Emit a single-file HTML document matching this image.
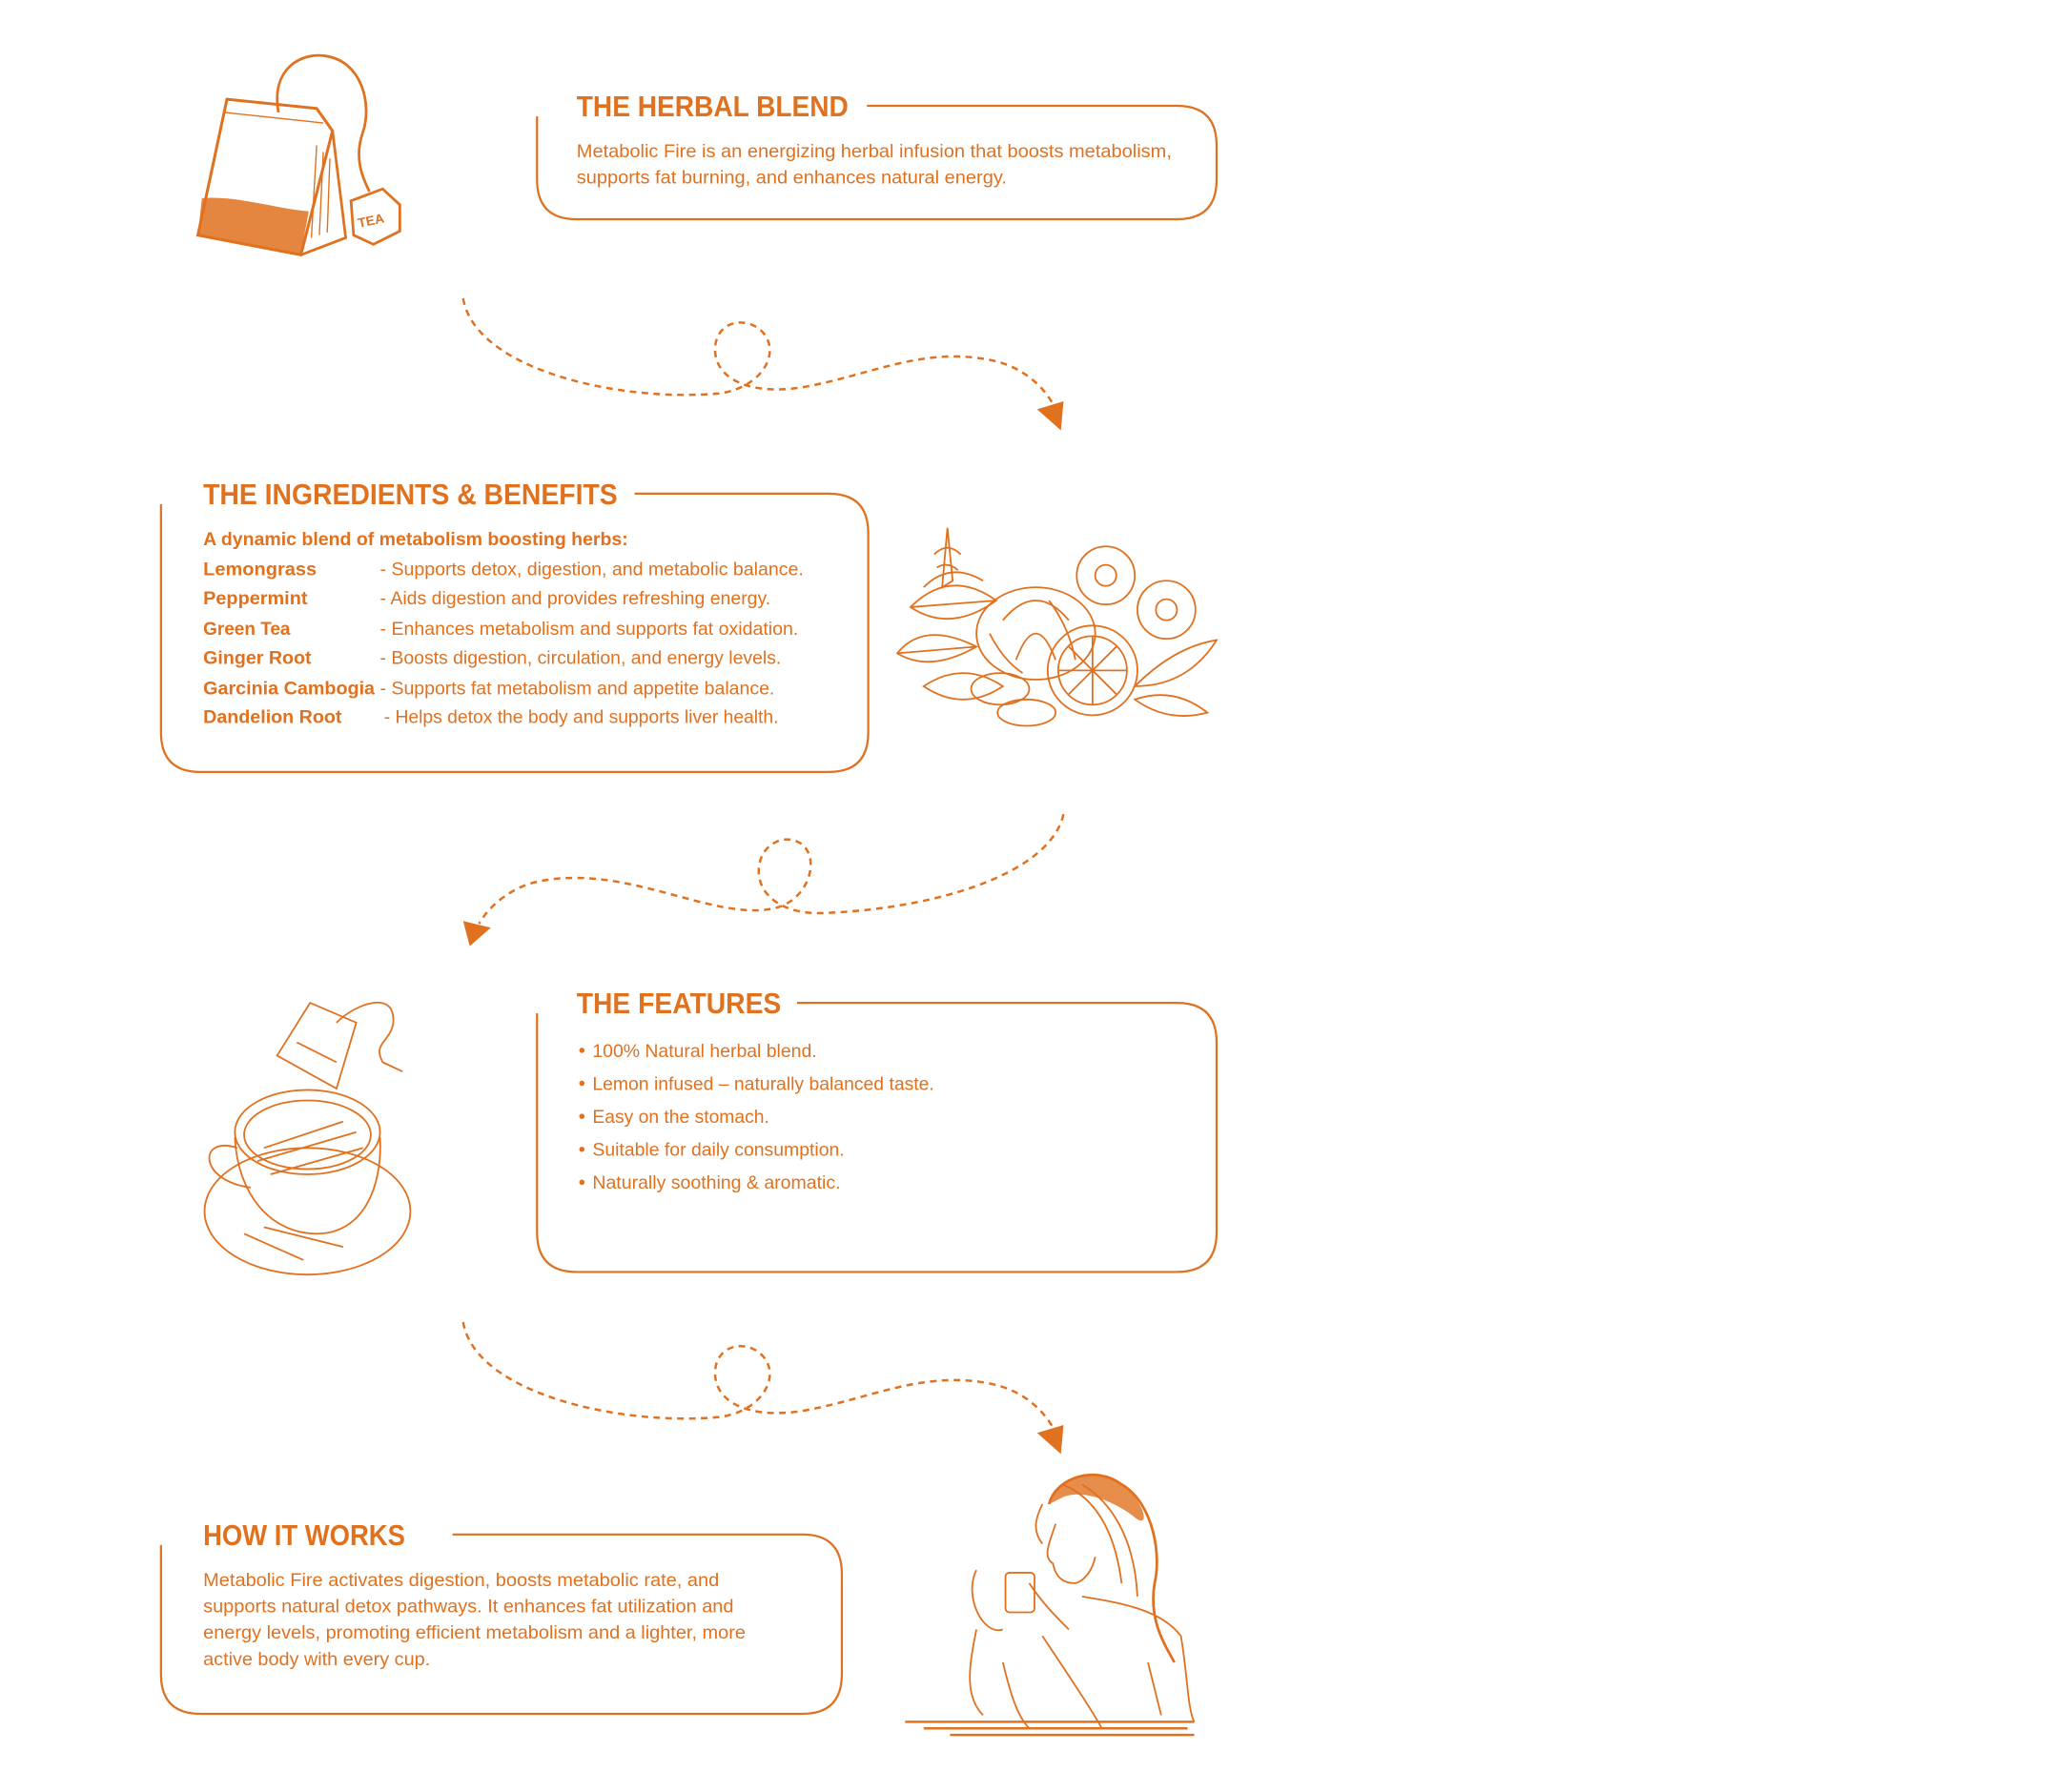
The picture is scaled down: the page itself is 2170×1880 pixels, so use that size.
<!DOCTYPE html>
<html><head><meta charset="utf-8"><style>
html,body{margin:0;padding:0;background:#fff;}
svg{display:block;}
text{font-family:"Liberation Sans",sans-serif;fill:#e0711f;}
.h{font-weight:bold;font-size:22px;}
.b{font-size:14px;}
.bb{font-size:14px;font-weight:bold;}
</style></head><body>
<svg width="2170" height="1880" viewBox="0 0 1568 1358" xmlns="http://www.w3.org/2000/svg">
<g fill="none" stroke="#e0711f" stroke-width="1.6">
<!-- boxes -->
<path d="M407,88 V136 Q407,166 437,166 H892 Q922,166 922,136 V110 Q922,80 892,80 H657"/>
<path d="M122,382 V555 Q122,585 152,585 H628 Q658,585 658,555 V404 Q658,374 628,374 H481"/>
<path d="M407,768 V934 Q407,964 437,964 H892 Q922,964 922,934 V790 Q922,760 892,760 H604"/>
<path d="M122,1171 V1269 Q122,1299 152,1299 H608 Q638,1299 638,1269 V1193 Q638,1163 608,1163 H343"/>
<!-- connectors -->
<g stroke-dasharray="5,4" stroke-width="1.8">
<path d="M351,226 C360,280 470,305 545,298 C575,294 588,272 582,258 C575,240 545,238 542,262 C540,288 570,300 610,293 C660,284 700,262 752,273 C775,278 790,292 798,306"/>
<path d="M806,617 C795,665 700,690 620,692 C595,692 575,680 575,660 C575,640 595,630 608,640 C622,652 612,682 588,688 C540,700 470,650 400,670 C382,677 370,688 363,700"/>
<path d="M351,1002 C360,1056 470,1081 545,1074 C575,1070 588,1048 582,1034 C575,1016 545,1014 542,1038 C540,1064 570,1076 610,1069 C660,1060 700,1038 752,1049 C775,1054 790,1068 798,1082"/>
</g>
<!-- tea bag -->
<path d="M172,75 L240,82 L252,99 L228,193 L150,178 Z" stroke-width="2.2"/>
<path d="M252,99 L262,180 L228,193" stroke-width="2"/>
<path d="M170,85 L245,93" stroke-width="1"/>
<path d="M211,85 C205,50 230,40 245,42 C275,45 282,80 275,100 C268,120 275,135 280,145" stroke-width="2"/>
<path d="M266,152 L290,143 L303,155 L303,175 L283,185 L268,178 Z" stroke-width="2"/>
<path d="M240,110 L236,180 M245,115 L242,178 M250,120 L248,176" stroke-width="1"/>
</g>
<path d="M153,150 C180,148 210,158 234,160 L228,192 L150,178 Z" fill="#e0711f" opacity="0.85"/>
<text x="271" y="170" style="font-size:10px;font-weight:bold" transform="rotate(-12 283 166)">TEA</text>
<g fill="none" stroke="#e0711f" stroke-width="1.3">
<!-- herbs -->
<circle cx="828" cy="508" r="34"/><circle cx="828" cy="508" r="26"/>
<path d="M828,482 V534 M802,508 H854 M810,490 L846,526 M846,490 L810,526"/>
<ellipse cx="785" cy="480" rx="45" ry="35"/>
<path d="M760,470 Q785,440 810,470 M770,500 Q785,460 800,500 M750,480 Q760,500 775,510 M795,455 Q810,475 815,500"/>
<circle cx="838" cy="436" r="22"/><circle cx="838" cy="436" r="8"/>
<circle cx="884" cy="462" r="22"/><circle cx="884" cy="462" r="8"/>
<path d="M718,400 L722,440 L714,445 L718,400 M708,420 Q718,410 728,420 M710,430 Q718,425 726,432"/>
<path d="M690,460 Q720,430 755,455 Q720,480 690,460Z M680,495 Q700,470 740,490 Q705,510 680,495Z M700,520 Q730,500 760,520 Q730,540 700,520Z M700,445 Q720,425 745,440 M690,460 L755,455 M680,495 L740,490"/>
<path d="M860,520 Q890,490 922,485 Q900,520 860,520Z M860,530 Q890,520 915,540 Q885,548 860,530Z"/>
<ellipse cx="758" cy="522" rx="22" ry="12"/><ellipse cx="778" cy="540" rx="22" ry="10"/>
<!-- cup -->
<path d="M210,800 L235,760 L270,775 L255,825 Z M225,790 L255,805 M255,775 C270,760 300,750 298,775 C296,790 282,790 290,805 L305,812"/>
<ellipse cx="233" cy="858" rx="55" ry="32"/>
<ellipse cx="233" cy="860" rx="48" ry="26"/>
<path d="M178,862 C180,905 205,935 240,935 C275,935 290,900 288,862"/>
<path d="M180,870 C150,860 150,895 190,900"/>
<ellipse cx="233" cy="918" rx="78" ry="48"/>
<path d="M200,870 L260,850 M195,880 L270,858 M205,890 L275,870 M200,930 L260,945 M185,935 L230,955"/>
<!-- woman -->
<path d="M795,1140 C800,1120 830,1110 850,1125 C875,1140 880,1180 875,1200 C870,1230 885,1250 890,1260" stroke-width="2"/>
<path d="M800,1155 C795,1170 790,1180 798,1185 C800,1195 805,1200 815,1200 C822,1198 828,1190 830,1180"/>
<path d="M790,1140 C785,1150 782,1160 790,1170 M805,1125 C830,1135 845,1160 850,1200 M820,1125 C845,1140 860,1170 862,1210"/>
<rect x="762" y="1192" width="22" height="30" rx="3"/>
<path d="M740,1190 C730,1210 745,1240 760,1235 M780,1200 C790,1215 800,1225 810,1235"/>
<path d="M740,1235 C735,1260 730,1285 745,1300 M820,1210 C850,1215 880,1220 895,1240 C900,1270 900,1295 905,1305"/>
<path d="M790,1240 C810,1270 830,1300 835,1310 M760,1260 C765,1280 770,1300 780,1310 M870,1260 L880,1300"/>
<path d="M686,1305 H905 M700,1310 H900 M720,1315 H905" stroke-width="1.8"/>
</g>
<path d="M795,1140 C800,1120 830,1110 850,1125 C868,1138 872,1160 860,1150 C845,1138 820,1128 805,1135 Z" fill="#e0711f" opacity="0.8"/>
<!-- text -->
<text class="h" x="437" y="88" textLength="206" lengthAdjust="spacingAndGlyphs">THE HERBAL BLEND</text>
<text class="b" x="437" y="119" textLength="451" lengthAdjust="spacingAndGlyphs">Metabolic Fire is an energizing herbal infusion that boosts metabolism,</text>
<text class="b" x="437" y="139" textLength="326" lengthAdjust="spacingAndGlyphs">supports fat burning, and enhances natural energy.</text>

<text class="h" x="154" y="382" textLength="314" lengthAdjust="spacingAndGlyphs">THE INGREDIENTS &amp; BENEFITS</text>
<text class="bb" x="154" y="413" textLength="322" lengthAdjust="spacingAndGlyphs">A dynamic blend of metabolism boosting herbs:</text>
<text class="bb" x="154" y="436" textLength="86" lengthAdjust="spacingAndGlyphs">Lemongrass</text>
<text class="b" x="288" y="436" textLength="321" lengthAdjust="spacingAndGlyphs">- Supports detox, digestion, and metabolic balance.</text>
<text class="bb" x="154" y="458" textLength="79" lengthAdjust="spacingAndGlyphs">Peppermint</text>
<text class="b" x="288" y="458" textLength="296" lengthAdjust="spacingAndGlyphs">- Aids digestion and provides refreshing energy.</text>
<text class="bb" x="154" y="481" textLength="66" lengthAdjust="spacingAndGlyphs">Green Tea</text>
<text class="b" x="288" y="481" textLength="317" lengthAdjust="spacingAndGlyphs">- Enhances metabolism and supports fat oxidation.</text>
<text class="bb" x="154" y="503" textLength="82" lengthAdjust="spacingAndGlyphs">Ginger Root</text>
<text class="b" x="288" y="503" textLength="304" lengthAdjust="spacingAndGlyphs">- Boosts digestion, circulation, and energy levels.</text>
<text class="bb" x="154" y="526" textLength="130" lengthAdjust="spacingAndGlyphs">Garcinia Cambogia</text>
<text class="b" x="288" y="526" textLength="299" lengthAdjust="spacingAndGlyphs">- Supports fat metabolism and appetite balance.</text>
<text class="bb" x="154" y="548" textLength="105" lengthAdjust="spacingAndGlyphs">Dandelion Root</text>
<text class="b" x="291" y="548" textLength="299" lengthAdjust="spacingAndGlyphs">- Helps detox the body and supports liver health.</text>

<text class="h" x="437" y="768" textLength="155" lengthAdjust="spacingAndGlyphs">THE FEATURES</text>
<g fill="#e0711f"><circle cx="441" cy="796" r="2"/><circle cx="441" cy="821" r="2"/><circle cx="441" cy="846" r="2"/><circle cx="441" cy="871" r="2"/><circle cx="441" cy="896" r="2"/></g>
<text class="b" x="449" y="801" textLength="170" lengthAdjust="spacingAndGlyphs">100% Natural herbal blend.</text>
<text class="b" x="449" y="826" textLength="259" lengthAdjust="spacingAndGlyphs">Lemon infused – naturally balanced taste.</text>
<text class="b" x="449" y="851" textLength="134" lengthAdjust="spacingAndGlyphs">Easy on the stomach.</text>
<text class="b" x="449" y="876" textLength="191" lengthAdjust="spacingAndGlyphs">Suitable for daily consumption.</text>
<text class="b" x="449" y="901" textLength="188" lengthAdjust="spacingAndGlyphs">Naturally soothing &amp; aromatic.</text>

<text class="h" x="154" y="1171" textLength="153" lengthAdjust="spacingAndGlyphs">HOW IT WORKS</text>
<text class="b" x="154" y="1202" textLength="391" lengthAdjust="spacingAndGlyphs">Metabolic Fire activates digestion, boosts metabolic rate, and</text>
<text class="b" x="154" y="1222" textLength="402" lengthAdjust="spacingAndGlyphs">supports natural detox pathways. It enhances fat utilization and</text>
<text class="b" x="154" y="1242" textLength="411" lengthAdjust="spacingAndGlyphs">energy levels, promoting efficient metabolism and a lighter, more</text>
<text class="b" x="154" y="1262" textLength="172" lengthAdjust="spacingAndGlyphs">active body with every cup.</text>

<!-- arrowheads -->
<g fill="#e0711f">
<polygon points="786,310 806,304 804,326"/>
<polygon points="351,698 372,703 356,717"/>
<polygon points="786,1086 806,1080 804,1102"/>
</g>
</svg>
</body></html>
